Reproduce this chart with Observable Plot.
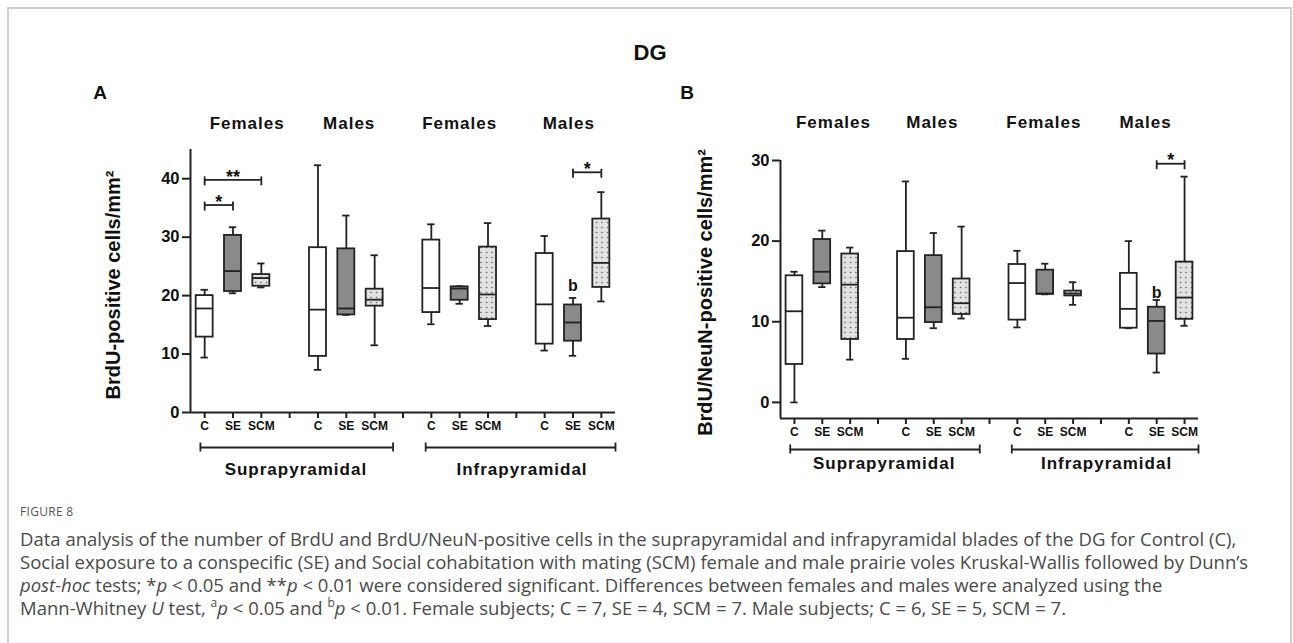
<!DOCTYPE html>
<html><head><meta charset="utf-8">
<script src="https://cdn.jsdelivr.net/npm/d3@7"></script>
<script src="https://cdn.jsdelivr.net/npm/@observablehq/plot@0.6"></script>
<style>
html,body{margin:0;padding:0;background:#fff;overflow:hidden}
#wrap{position:relative;width:1293px;height:643px;overflow:hidden;font-family:"Liberation Sans",Arial,sans-serif}
#frame{position:absolute;left:7px;top:7px;width:1285px;height:700px;border:2px solid #cfcfcf;border-bottom:none;box-sizing:border-box}
.abs{position:absolute;white-space:nowrap}
.head{font-weight:bold;color:#111;transform:translate(-50%,-50%)}
.cap{font-family:"Open Sans",sans-serif;color:#4a4a4a;left:20px;transform:translateY(-50%)}
.cap sup{font-size:0.65em;line-height:0}
</style></head>
<body><div id="wrap">
<div id="frame"></div>
<div class="abs head" style="left:650px;top:53px;font-size:22px">DG</div>
<div class="abs head" style="left:100px;top:93px;font-size:19px">A</div>
<div class="abs head" style="left:687px;top:93px;font-size:19px">B</div>
<div class="abs cap" style="top:511px;font-size:12px;letter-spacing:0.3px;color:#555">FIGURE 8</div>
<div class="abs cap capline" style="top:538px">Data analysis of the number of BrdU and BrdU/NeuN-positive cells in the suprapyramidal and infrapyramidal blades of the DG for Control (C),</div>
<div class="abs cap capline" style="top:561px">Social exposure to a conspecific (SE) and Social cohabitation with mating (SCM) female and male prairie voles Kruskal-Wallis followed by Dunn’s</div>
<div class="abs cap capline" style="top:584px"><i>post-hoc</i> tests; *<i>p</i> &lt; 0.05 and **<i>p</i> &lt; 0.01 were considered significant. Differences between females and males were analyzed using the</div>
<div class="abs cap capline" style="top:607px">Mann-Whitney <i>U</i> test, <sup>a</sup><i>p</i> &lt; 0.05 and <sup>b</sup><i>p</i> &lt; 0.01. Female subjects; C = 7, SE = 4, SCM = 7. Male subjects; C = 6, SE = 5, SCM = 7.</div>
</div>
<script>
// ---- data ----
const groups = ["C", "SE", "SCM"];
const sexes = ["Females", "Males"];
const blades = ["Suprapyramidal", "Infrapyramidal"];
// order: Supra-F (C,SE,SCM), Supra-M, Infra-F, Infra-M
const brduMin    = [9.4, 20.4, 21.4,  7.3, 16.7, 11.5, 15.1, 18.6, 14.8, 10.6,  9.7, 19.0];
const brduQ1     = [12.9, 20.7, 21.6, 9.6, 16.7, 18.2, 17.1, 19.2, 15.9, 11.7, 12.2, 21.4];
const brduMedian = [17.8, 24.2, 23.0, 17.6, 17.8, 19.3, 21.3, 21.2, 20.2, 18.5, 15.4, 25.6];
const brduQ3     = [20.0, 30.3, 23.6, 28.2, 28.0, 21.1, 29.5, 21.5, 28.3, 27.2, 18.4, 33.1];
const brduMax    = [21.0, 31.7, 25.5, 42.3, 33.7, 26.9, 32.2, 21.6, 32.4, 30.2, 19.6, 37.7];

const neunMin    = [0.0, 14.3, 5.3,  5.4,  9.2, 10.4,  9.3, 13.4, 12.1,  9.2,  3.7,  9.5];
const neunQ1     = [4.7, 14.7, 7.8,  7.8,  9.9, 10.9, 10.2, 13.4, 13.2,  9.2,  6.0, 10.3];
const neunMedian = [11.3, 16.2, 14.6, 10.5, 11.8, 12.3, 14.8, 13.5, 13.5, 11.6, 10.1, 13.0];
const neunQ3     = [15.7, 20.2, 18.4, 18.7, 18.2, 15.3, 17.1, 16.4, 13.8, 16.0, 11.8, 17.4];
const neunMax    = [16.2, 21.3, 19.2, 27.4, 21.0, 21.8, 18.8, 17.2, 14.9, 20.0, 12.7, 28.0];

const yTicksA = [0, 10, 20, 30, 40];
const yTicksB = [0, 10, 20, 30];
const yLabelA = "BrdU-positive cells/mm²";
const yLabelB = "BrdU/NeuN-positive cells/mm²";
// significance brackets: blade, sex, from group, to group, label, height
const sigA = [["Suprapyramidal","Females","C","SE","*",35.5],["Suprapyramidal","Females","C","SCM","**",39.8],["Infrapyramidal","Males","SE","SCM","*",41.1]];
const sigB = [["Infrapyramidal","Males","SE","SCM","*",29.6]];
// female vs male difference markers: blade, sex, group, label, height
const sexDiffA = [["Infrapyramidal","Males","SE","b",21.7]];
const sexDiffB = [["Infrapyramidal","Males","SE","b",13.6]];

// ---- drawing ----
const slot = (b, s, g) => blades.indexOf(b) * 8 + sexes.indexOf(s) * 4 + groups.indexOf(g);
function makeRows(mn, q1, md, q3, mx) {
  const rows = [];
  blades.forEach((b, bi) => sexes.forEach((s, si) => groups.forEach((g, gi) => {
    const i = bi * 6 + si * 3 + gi;
    rows.push({blade: b, sex: s, group: g, slot: slot(b, s, g), min: mn[i], q1: q1[i], med: md[i], q3: q3[i], max: mx[i]});
  })));
  return rows;
}
const ink = "#222";
function panel(cfg) {
  const rows = makeRows(...cfg.stats);
  const [d0, d1] = cfg.yDomain;
  const k = (cfg.H - cfg.mb - cfg.mt) / (d1 - d0);
  const u = p => p / k;
  const bw = 0.3, cw = 0.13, sw = 1.8;
  const sig = cfg.sig.map(([b, s, g1, g2, label, y]) => ({x1: slot(b, s, g1), x2: slot(b, s, g2), label, y}));
  const sigEnds = sig.flatMap(d => [{x: d.x1, y: d.y}, {x: d.x2, y: d.y}]);
  const diffs = cfg.diff.map(([b, s, g, label, y]) => ({x: slot(b, s, g), label, y}));
  const sexLab = [];
  blades.forEach((b, bi) => sexes.forEach((s, si) => sexLab.push({x: cfg.sexX[bi * 2 + si], text: s})));
  const spans = [[-0.15, 6.65], [7.8, 14.5]];
  const bY = d0 - u(cfg.bracketOff);
  const bladeLab = blades.map((b, i) => ({x: [3.22, 11.2][i], text: b}));
  const labY = d0 - u(cfg.labelOff);
  const fills = {C: "#ffffff", SE: "#8a8a8a", SCM: `url(#${cfg.pid})`};
  const svg = Plot.plot({
    width: cfg.W, height: cfg.H,
    marginLeft: cfg.ml, marginRight: cfg.mr, marginTop: cfg.mt, marginBottom: cfg.mb,
    x: {type: "linear", domain: [-0.5, 14.5], axis: null},
    y: {domain: cfg.yDomain, axis: null},
    style: {fontFamily: "'Liberation Sans', Arial, sans-serif", fontWeight: "bold", color: "#111", background: "transparent", overflow: "visible"},
    marks: [
      Plot.ruleX([-0.5], {stroke: ink, strokeWidth: 2}),
      Plot.ruleY([d0], {stroke: ink, strokeWidth: 2}),
      Plot.axisY({ticks: cfg.yTicks, tickSize: 8, tickPadding: 3, fontSize: 16.5, stroke: ink, strokeWidth: 2, label: null}),
      Plot.axisX({ticks: d3.range(15), tickFormat: i => (i % 4 === 3 ? "" : groups[i % 4]), tickSize: 6, tickPadding: 3, fontSize: 12, stroke: ink, strokeWidth: 2, label: null}),
      // whiskers
      Plot.ruleX(rows, {x: "slot", y1: "q3", y2: "max", stroke: ink, strokeWidth: sw}),
      Plot.ruleX(rows, {x: "slot", y1: "min", y2: "q1", stroke: ink, strokeWidth: sw}),
      Plot.ruleY(rows, {y: "max", x1: d => d.slot - cw, x2: d => d.slot + cw, stroke: ink, strokeWidth: sw}),
      Plot.ruleY(rows, {y: "min", x1: d => d.slot - cw, x2: d => d.slot + cw, stroke: ink, strokeWidth: sw}),
      // boxes
      ...groups.map(g => Plot.rect(rows.filter(d => d.group === g), {x1: d => d.slot - bw, x2: d => d.slot + bw, y1: "q1", y2: "q3", fill: fills[g], stroke: ink, strokeWidth: sw})),
      Plot.ruleY(rows, {y: "med", x1: d => d.slot - bw, x2: d => d.slot + bw, stroke: ink, strokeWidth: sw}),
      // significance
      Plot.ruleY(sig, {y: "y", x1: "x1", x2: "x2", stroke: ink, strokeWidth: sw}),
      Plot.ruleX(sigEnds, {x: "x", y1: d => d.y + u(3), y2: d => d.y - u(6), stroke: ink, strokeWidth: sw}),
      Plot.text(sig, {x: d => (d.x1 + d.x2) / 2, y: "y", text: "label", fontSize: 18, dy: -3}),
      Plot.text(diffs, {x: "x", y: "y", text: "label", fontSize: 16}),
      // group labels
      Plot.text(sexLab, {x: "x", text: "text", frameAnchor: "top", lineAnchor: "middle", dy: cfg.sexDy, fontSize: 17}),
      // blade brackets
      Plot.ruleY(spans, {y: bY, x1: d => d[0], x2: d => d[1], stroke: ink, strokeWidth: sw}),
      Plot.ruleX(spans.flat(), {x: d => d, y1: bY + u(4.5), y2: bY - u(4.5), stroke: ink, strokeWidth: sw}),
      Plot.text(bladeLab, {x: "x", y: labY, text: "text", fontSize: 17}),
      // y title
      Plot.text([cfg.yLabel], {frameAnchor: "left", textAnchor: "middle", lineAnchor: "middle", rotate: -90, dx: cfg.titleDx, dy: cfg.titleDy, fontSize: 20})
    ]
  });
  // dotted pattern for SCM
  const ns = "http://www.w3.org/2000/svg";
  const defs = document.createElementNS(ns, "defs");
  const p = document.createElementNS(ns, "pattern");
  p.setAttribute("id", cfg.pid); p.setAttribute("patternUnits", "userSpaceOnUse");
  p.setAttribute("width", "5.5"); p.setAttribute("height", "5");
  const r = document.createElementNS(ns, "rect");
  r.setAttribute("width", "5.5"); r.setAttribute("height", "5"); r.setAttribute("fill", "#e2e2e2");
  const c = document.createElementNS(ns, "circle");
  c.setAttribute("cx", "2.5"); c.setAttribute("cy", "2.5"); c.setAttribute("r", "0.8"); c.setAttribute("fill", "#555");
  p.appendChild(r); p.appendChild(c); defs.appendChild(p);
  svg.insertBefore(defs, svg.firstChild);
  d3.select(svg).selectAll("text").each(function() {
    if (sexes.includes(this.textContent) || blades.includes(this.textContent)) this.style.letterSpacing = "1px";
  });
  svg.style.position = "absolute";
  svg.style.left = cfg.left + "px";
  svg.style.top = "0px";
  document.getElementById("wrap").appendChild(svg);
}

panel({pid: "dotsA", left: 0, W: 650, H: 500, ml: 190, mr: 35, mt: 149, mb: 88,
  yDomain: [0, 45], yTicks: yTicksA, yLabel: yLabelA, titleDx: -77, titleDy: 4,
  stats: [brduMin, brduQ1, brduMedian, brduQ3, brduMax], sig: sigA, diff: sexDiffA,
  sexX: [1.5, 5.1, 9.0, 12.85], sexDy: -26, bracketOff: 35, labelOff: 57});
panel({pid: "dotsB", left: 650, W: 643, H: 500, ml: 130, mr: 95, mt: 160, mb: 82,
  yDomain: [-2, 30], yTicks: yTicksB, yLabel: yLabelB, titleDx: -75, titleDy: 3,
  stats: [neunMin, neunQ1, neunMedian, neunQ3, neunMax], sig: sigB, diff: sexDiffB,
  sexX: [1.4, 4.95, 8.95, 12.6], sexDy: -38, bracketOff: 31, labelOff: 45});

// fit caption font so first line spans like the original
const lines = document.querySelectorAll(".capline");
lines.forEach(l => l.style.fontSize = "16px");
const w = lines[0].getBoundingClientRect().width;
const fs = 16 * 1217 / w;
lines.forEach(l => l.style.fontSize = fs.toFixed(2) + "px");
</script>
</body></html>
